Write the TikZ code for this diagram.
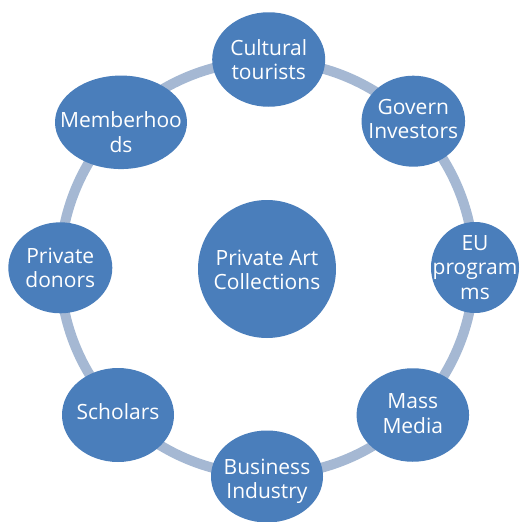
\documentclass[tikz,border=0pt]{standalone}
\usepackage{fontspec}
\setmainfont{Open Sans}
\usetikzlibrary{shapes.geometric}
\definecolor{nodeblue}{HTML}{4A7EBB}
\definecolor{ringblue}{HTML}{A5B8D3}
\tikzset{
  member/.style={ellipse, fill=nodeblue, draw=none, inner sep=0pt},
  memtext/.style={text=white, align=center, inner sep=0pt,
    font=\fontsize{21}{24.5}\selectfont},
}
\begin{document}
\begin{tikzpicture}[x=1pt,y=-1pt]
\useasboundingbox (0,0) rectangle (522,522);
\coordinate (ringc) at (267,268);
\draw[ringblue, line width=10pt] (ringc) circle[radius=207];
\node[member, minimum width=138pt, minimum height=138pt, label={[memtext, yshift=-3.5pt]center:\strut Private Art\\\strut Collections}] (center) at (267,269) {};
\node[member, minimum width=113pt, minimum height=94.5pt, label={[memtext, yshift=-3pt]center:\strut Cultural\\\strut tourists}] (cultural) at (268.7,59.5) {};
\node[member, minimum width=103.5pt, minimum height=91pt, label={[memtext, yshift=-0.5pt]center:\strut Govern\\\strut Investors}] (govern) at (413.3,121.2) {};
\node[member, minimum width=88pt, minimum height=91pt, label={[memtext, yshift=-2.5pt]center:\strut EU\\\strut program\\\strut ms}] (eu) at (475,267.5) {};
\node[member, minimum width=112.5pt, minimum height=93.5pt, label={[memtext, yshift=-1.2pt]center:\strut Mass\\\strut Media}] (mass) at (412.8,415) {};
\node[member, minimum width=112pt, minimum height=92pt, label={[memtext, yshift=-5pt]center:\strut Business\\\strut Industry}] (business) at (267,476.5) {};
\node[member, minimum width=112pt, minimum height=94pt, label={[memtext, yshift=0.5pt]center:\strut Scholars}] (scholars) at (118,415) {};
\node[member, minimum width=104pt, minimum height=91pt, label={[memtext, yshift=-3pt]center:\strut Private\\\strut donors}] (donors) at (60.3,267.8) {};
\node[member, minimum width=132pt, minimum height=93.5pt, label={[memtext, yshift=-13pt]center:\strut Memberhoo\\\strut ds}] (member) at (121,122.3) {};
\end{tikzpicture}
\end{document}
